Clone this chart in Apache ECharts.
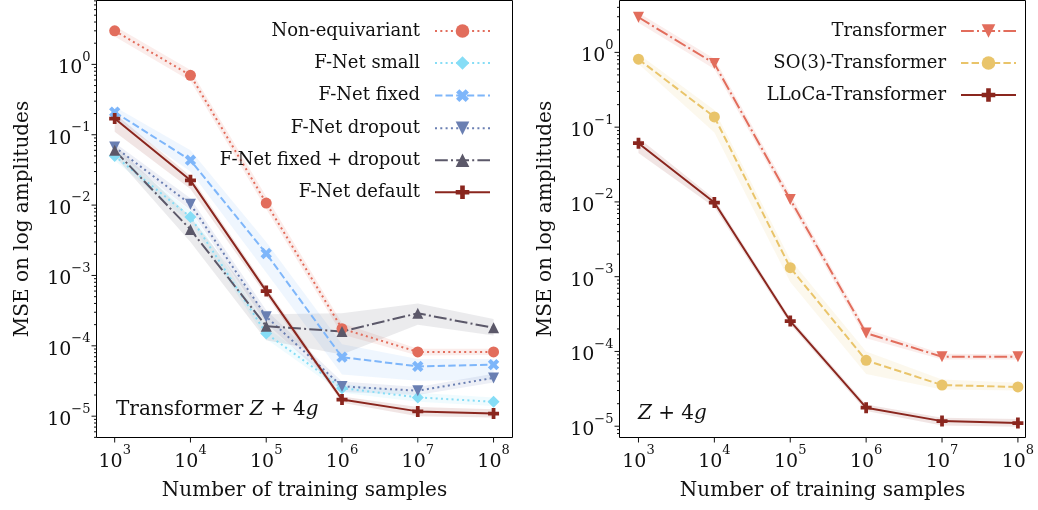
<!DOCTYPE html>
<html>
<head>
<meta charset="utf-8">
<script src="https://cdn.jsdelivr.net/npm/echarts@6/dist/echarts.min.js"></script>
<style>
  html, body { margin: 0; padding: 0; background: #fff; }
  #chart { width: 1038px; height: 510px; }
</style>
</head>
<body>
<div id="chart"></div>
<script>
// training set sizes
const samples = [1e3, 1e4, 1e5, 1e6, 1e7, 1e8]

// left panel: Transformer Z+4g
const nonEquiv = [3.0, 0.70, 0.0107, 1.75e-4, 8.2e-5, 8.2e-5]
const nonEquivLo = [2.5, 0.58, 0.0088, 1.45e-4, 7.3e-5, 7.4e-5]
const nonEquivHi = [3.5, 0.83, 0.0132, 2.1e-4, 9.1e-5, 9.1e-5]
const fnetSmall = [0.050, 0.0068, 1.5e-4, 2.5e-5, 1.85e-5, 1.6e-5]
const fnetSmallLo = [0.043, 0.0056, 1.25e-4, 2.15e-5, 1.6e-5, 1.4e-5]
const fnetSmallHi = [0.058, 0.0083, 1.85e-4, 2.9e-5, 2.15e-5, 1.85e-5]
const fnetFixed = [0.21, 0.0435, 0.00205, 6.9e-5, 5.1e-5, 5.4e-5]
const fnetFixedLo = [0.17, 0.030, 0.0011, 3.9e-5, 3.2e-5, 3.3e-5]
const fnetFixedHi = [0.25, 0.060, 0.0030, 1.05e-4, 6.5e-5, 6.5e-5]
const fnetDropout = [0.067, 0.0103, 2.6e-4, 2.65e-5, 2.3e-5, 3.5e-5]
const fnetDropoutLo = [0.058, 0.0085, 2.1e-4, 2.2e-5, 2.0e-5, 3.0e-5]
const fnetDropoutHi = [0.077, 0.0125, 3.2e-4, 3.1e-5, 2.6e-5, 4.0e-5]
const fnetFixedDrop = [0.060, 0.0045, 1.9e-4, 1.6e-4, 2.9e-4, 1.8e-4]
const fnetFixedDropLo = [0.050, 0.0030, 1.2e-4, 7.5e-5, 2.0e-4, 1.4e-4]
const fnetFixedDropHi = [0.072, 0.0068, 2.8e-4, 2.9e-4, 4.0e-4, 2.4e-4]
const fnetDefault = [0.17, 0.0225, 6.0e-4, 1.72e-5, 1.17e-5, 1.09e-5]
const fnetDefaultLo = [0.11, 0.017, 5.2e-4, 1.55e-5, 1.0e-5, 9.6e-6]
const fnetDefaultHi = [0.20, 0.026, 6.8e-4, 1.9e-5, 1.35e-5, 1.25e-5]

// right panel: Z+4g
const transformer = [2.95, 0.71, 0.0108, 1.76e-4, 8.5e-5, 8.5e-5]
const transformerLo = [2.5, 0.60, 0.0092, 1.5e-4, 7.8e-5, 7.8e-5]
const transformerHi = [3.4, 0.82, 0.0128, 2.0e-4, 9.3e-5, 9.2e-5]
const so3 = [0.81, 0.137, 0.00132, 7.6e-5, 3.55e-5, 3.35e-5]
const so3Lo = [0.70, 0.085, 8.5e-4, 5.0e-5, 3.1e-5, 3.0e-5]
const so3Hi = [0.95, 0.17, 0.0017, 1.0e-4, 4.2e-5, 3.8e-5]
const lloca = [0.061, 0.0098, 2.55e-4, 1.77e-5, 1.17e-5, 1.1e-5]
const llocaLo = [0.045, 0.0085, 2.3e-4, 1.6e-5, 1.02e-5, 9.8e-6]
const llocaHi = [0.072, 0.011, 2.8e-4, 1.95e-5, 1.3e-5, 1.25e-5]

// axis ticks (powers of ten) and minor multipliers
const xTickExp = [3, 4, 5, 6, 7, 8]
const yTickExp = [-6, -5, -4, -3, -2, -1, 0]
const minorMult = [2, 3, 4, 5, 6, 7, 8, 9]

const FONT = 'DejaVu Serif'
const RED = '#E26D5C'
const CYAN = '#86DDF6'
const LBLUE = '#7EB6FA'
const SLATE = '#6A7FB2'
const DGRAY = '#5B5869'
const DRED = '#8A261E'
const YELLOW = '#E9C46A'

const DOTTED = [2, 3.3]
const DASHED = [7.4, 3.2]
const DASHDOT = [12.8, 3.2, 2, 3.2]
const PLUS = 'path://M3.3,0H6.7V3.3H10V6.7H6.7V10H3.3V6.7H0V3.3H3.3Z'

const panels = [
  { xMin: Math.pow(10, 2.76), xMax: Math.pow(10, 8.25), yMin: Math.pow(10, -5.303), yMax: Math.pow(10, 0.908) },
  { xMin: Math.pow(10, 2.75), xMax: Math.pow(10, 8.10), yMin: Math.pow(10, -5.151), yMax: Math.pow(10, 0.694) }
]

function expLabel (v) {
  const e = Math.log10(v)
  const r = Math.round(e)
  if (Math.abs(e - r) > 1e-6) return ''
  return '{b|10}{s|' + (r < 0 ? '\u2212' + (-r) : r) + '}'
}

const labelRich = {
  b: { fontSize: 19, fontFamily: FONT, color: '#111', verticalAlign: 'bottom', lineHeight: 27 },
  s: { fontSize: 13, fontFamily: FONT, color: '#111', verticalAlign: 'top', lineHeight: 14 }
}

function band (idx, lo, hi, color) {
  return {
    type: 'custom',
    xAxisIndex: idx,
    yAxisIndex: idx,
    silent: true,
    z: 1,
    data: [[samples[0], lo[0]]],
    renderItem (params, api) {
      const pts = []
      for (let i = 0; i < samples.length; i++) pts.push(api.coord([samples[i], hi[i]]))
      for (let i = samples.length - 1; i >= 0; i--) pts.push(api.coord([samples[i], lo[i]]))
      return { type: 'polygon', shape: { points: pts }, style: { fill: color, opacity: 0.12 } }
    }
  }
}

function line (idx, name, data, color, dash, symbol, size, rotate, z) {
  return {
    type: 'line',
    name,
    xAxisIndex: idx,
    yAxisIndex: idx,
    data: samples.map((x, i) => [x, data[i]]),
    symbol,
    symbolSize: size,
    symbolRotate: rotate || 0,
    showAllSymbol: true,
    z: z || 3,
    lineStyle: { color, width: 2, type: dash },
    itemStyle: { color }
  }
}

// tick marks drawn on the axes (major and log minor ticks)
function ticks (idx) {
  const p = panels[idx]
  const data = []
  xTickExp.forEach(e => data.push([Math.pow(10, e), p.yMin, 0, 5]))
  yTickExp.forEach(e => {
    const v = Math.pow(10, e)
    if (v >= p.yMin && v <= p.yMax) data.push([p.xMin, v, 1, 5])
    minorMult.forEach(m => {
      const mv = m * v
      if (mv >= p.yMin && mv <= p.yMax) data.push([p.xMin, mv, 1, 2.5])
    })
  })
  return {
    type: 'custom',
    xAxisIndex: idx,
    yAxisIndex: idx,
    silent: true,
    z: 10,
    data,
    renderItem (params, api) {
      const pt = api.coord([api.value(0), api.value(1)])
      const len = api.value(3)
      const shape = api.value(2) === 0
        ? { x1: pt[0], y1: pt[1], x2: pt[0], y2: pt[1] + len }
        : { x1: pt[0] - len, y1: pt[1], x2: pt[0], y2: pt[1] }
      return { type: 'line', shape, style: { stroke: '#111', lineWidth: 1 } }
    }
  }
}

function xAxis (idx) {
  return {
    type: 'log',
    gridIndex: idx,
    min: panels[idx].xMin,
    max: panels[idx].xMax,
    name: 'Number of training samples',
    nameLocation: 'middle',
    nameGap: 43,
    nameTextStyle: { fontFamily: FONT, fontSize: 20, color: '#111' },
    axisLine: { show: false },
    axisTick: { show: false },
    splitLine: { show: false },
    minorTick: { show: false },
    axisLabel: { formatter: expLabel, rich: labelRich, margin: 7, showMinLabel: false, showMaxLabel: false }
  }
}

function yAxis (idx) {
  return {
    type: 'log',
    gridIndex: idx,
    min: panels[idx].yMin,
    max: panels[idx].yMax,
    name: 'MSE on log amplitudes',
    nameLocation: 'middle',
    nameGap: 64,
    nameTextStyle: { fontFamily: FONT, fontSize: 20, color: '#111' },
    axisLine: { show: false },
    axisTick: { show: false },
    splitLine: { show: false },
    axisLabel: { formatter: expLabel, rich: labelRich, margin: 6, showMinLabel: false, showMaxLabel: false }
  }
}

const legendCommon = {
  orient: 'vertical',
  align: 'right',
  itemWidth: 55,
  itemHeight: 17,
  itemGap: 14,
  symbolRotate: 'inherit',
  textStyle: { fontFamily: FONT, fontSize: 18, color: '#111', padding: [0, 10, 0, 0] }
}

const chart = echarts.init(document.getElementById('chart'), null, { renderer: 'canvas' })
chart.setOption({
  animation: false,
  backgroundColor: '#fff',
  textStyle: { fontFamily: FONT },
  grid: [
    { left: 96.5, right: 525.5, top: 0.5, bottom: 72.5, show: true, borderColor: '#000', borderWidth: 1, backgroundColor: 'transparent' },
    { left: 619.5, right: 12.5, top: 0.5, bottom: 72.5, show: true, borderColor: '#000', borderWidth: 1, backgroundColor: 'transparent' }
  ],
  xAxis: [xAxis(0), xAxis(1)],
  yAxis: [yAxis(0), yAxis(1)],
  legend: [
    Object.assign({}, legendCommon, {
      right: 542, top: 17,
      data: ['Non-equivariant', 'F-Net small', 'F-Net fixed', 'F-Net dropout', 'F-Net fixed + dropout', 'F-Net default']
    }),
    Object.assign({}, legendCommon, {
      right: 16, top: 17,
      data: ['Transformer', 'SO(3)-Transformer', 'LLoCa-Transformer']
    })
  ],
  graphic: [
    {
      type: 'text', left: 116, top: 400, silent: true,
      style: {
        text: 'Transformer {i|Z} + 4{i|g}',
        font: '20px "DejaVu Serif"', fill: '#111',
        rich: { i: { fontStyle: 'italic', fontSize: 20, fontFamily: FONT } }
      }
    },
    {
      type: 'text', left: 638, top: 404, silent: true,
      style: {
        text: '{i|Z} + 4{i|g}',
        font: '20px "DejaVu Serif"', fill: '#111',
        rich: { i: { fontStyle: 'italic', fontSize: 20, fontFamily: FONT } }
      }
    }
  ],
  series: [
    band(0, nonEquivLo, nonEquivHi, RED),
    band(0, fnetSmallLo, fnetSmallHi, CYAN),
    band(0, fnetFixedLo, fnetFixedHi, LBLUE),
    band(0, fnetDropoutLo, fnetDropoutHi, SLATE),
    band(0, fnetFixedDropLo, fnetFixedDropHi, DGRAY),
    band(0, fnetDefaultLo, fnetDefaultHi, DRED),
    line(0, 'Non-equivariant', nonEquiv, RED, DOTTED, 'circle', 11),
    line(0, 'F-Net small', fnetSmall, CYAN, DOTTED, 'diamond', [12, 12]),
    line(0, 'F-Net fixed', fnetFixed, LBLUE, DASHED, PLUS, 12, 45),
    line(0, 'F-Net dropout', fnetDropout, SLATE, DOTTED, 'triangle', 11, 180),
    line(0, 'F-Net fixed + dropout', fnetFixedDrop, DGRAY, DASHDOT, 'triangle', 11),
    line(0, 'F-Net default', fnetDefault, DRED, 'solid', PLUS, 11, 0, 4),
    band(1, transformerLo, transformerHi, RED),
    band(1, so3Lo, so3Hi, YELLOW),
    band(1, llocaLo, llocaHi, DRED),
    line(1, 'Transformer', transformer, RED, DASHDOT, 'triangle', 11, 180),
    line(1, 'SO(3)-Transformer', so3, YELLOW, DASHED, 'circle', 11),
    line(1, 'LLoCa-Transformer', lloca, DRED, 'solid', PLUS, 11),
    ticks(0),
    ticks(1)
  ]
})
</script>
</body>
</html>
